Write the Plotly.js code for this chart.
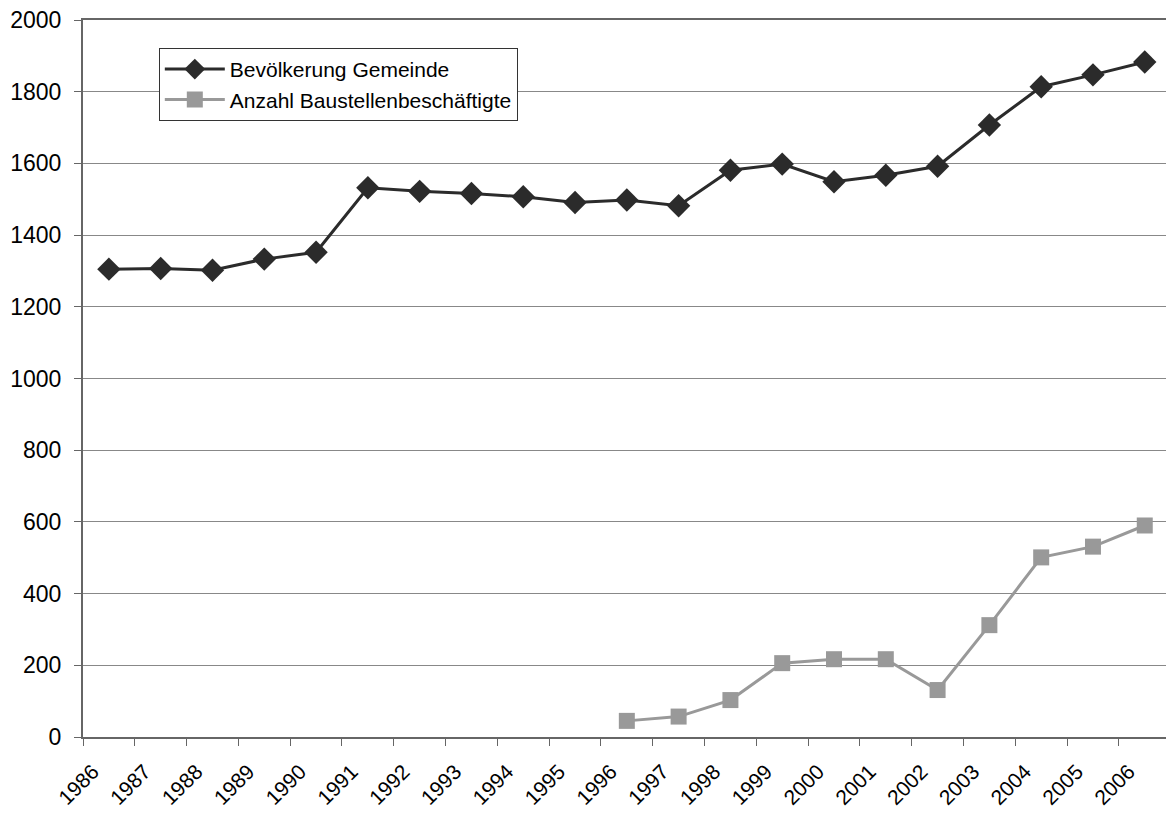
<!DOCTYPE html>
<html>
<head>
<meta charset="utf-8">
<script src="https://cdn.plot.ly/plotly-3.0.1.min.js"></script>
<style>html,body{margin:0;padding:0;background:#fff;}#chart{width:1166px;height:814px;}</style>
</head>
<body>
<div id="chart"></div>
<script>
const years = ["1986","1987","1988","1989","1990","1991","1992","1993","1994","1995","1996","1997","1998","1999","2000","2001","2002","2003","2004","2005","2006"];
const bevoelkerung = [1305,1307,1302,1333,1352,1532,1522,1516,1507,1491,1498,1482,1581,1598,1549,1567,1592,1707,1814,1847,1883];
const bauYears = ["1996","1997","1998","1999","2000","2001","2002","2003","2004","2005","2006"];
const baustellen = [45,57,103,206,217,217,131,312,501,531,590];
const yTicks = [0,200,400,600,800,1000,1200,1400,1600,1800,2000];

const idx = y => years.indexOf(y);
const xAll = years.map((y,i)=>i);
const xBau = bauYears.map(idx);

const traces = [
  {x:xAll, y:bevoelkerung, name:"Bevölkerung Gemeinde", type:"scatter", mode:"lines+markers",
   line:{color:"#2b2b2b", width:3}, marker:{symbol:"diamond", size:18, color:"#2b2b2b"}},
  {x:xBau, y:baustellen, name:"Anzahl Baustellenbeschäftigte", type:"scatter", mode:"lines+markers",
   line:{color:"#999999", width:3}, marker:{symbol:"square", size:16, color:"#999999"}}
];

const layout = {
  width:1166, height:814,
  margin:{l:83, r:0, t:20, b:77},
  paper_bgcolor:"#fff", plot_bgcolor:"#fff",
  font:{family:"Liberation Sans, Arial, sans-serif", color:"#000"},
  showlegend:true,
  legend:{x:0.07, y:0.961, xanchor:"left", yanchor:"top", bgcolor:"#fff", itemwidth:60,
    bordercolor:"#333", borderwidth:1, font:{size:21, color:"#000"}, tracegroupgap:0},
  xaxis:{range:[-0.5,20.41], tickmode:"array", tickvals:xAll, ticktext:years,
    tickangle:-45, ticks:"", ticklabelstandoff:12, ticklabelshift:-16, tickfont:{size:21},
    showgrid:false, zeroline:false, showline:true, linecolor:"#666", linewidth:2, mirror:true,
    minor:{tickmode:"linear", tick0:-0.5, dtick:1, ticks:"outside", ticklen:7, tickcolor:"#666", tickwidth:1, showgrid:false}},
  yaxis:{range:[0,2000], tickmode:"array", tickvals:yTicks, ticks:"outside", ticklen:7, tickcolor:"#666",
    tickfont:{size:23}, showgrid:true, gridcolor:"#888", gridwidth:1, zeroline:false,
    showline:true, linecolor:"#666", linewidth:2, ticklabelstandoff:8}
};

Plotly.newPlot("chart", traces, layout, {displayModeBar:false, staticPlot:true});
</script>
</body>
</html>
